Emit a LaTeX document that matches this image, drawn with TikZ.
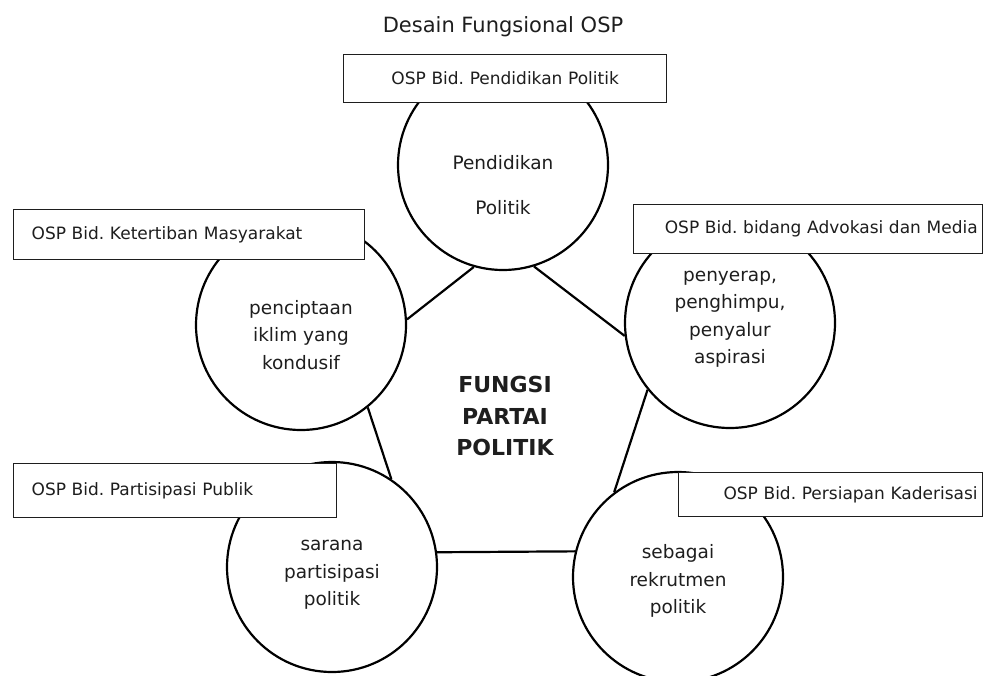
\documentclass[tikz,border=0pt]{standalone}
\usepackage{fontspec}
\setmainfont{DejaVu Sans}
\usepackage{tikz}
\usepackage{xcolor}
\definecolor{teks}{HTML}{1E1E1E}
\frenchspacing

\begin{document}
\begin{tikzpicture}[x=1pt,y=-1pt]
		\tikzstyle{fungsi}=[draw, circle, line width=2.2pt, minimum size=210pt, inner sep=0pt]
		\tikzstyle{isi}=[align=center, text=teks, font=\fontsize{18.5}{27.5}\selectfont]
		\tikzstyle{osp}=[draw=teks, fill=white, line width=1.3pt, rectangle, anchor=north west, inner ysep=0pt, text=teks, font=\fontsize{17}{20}\selectfont]
		\tikzstyle{garis}=[line width=2.2pt]
		\useasboundingbox (0,0) rectangle (984,675);
		\node[text=teks, font=\fontsize{21}{25}\selectfont] (judul) at (503,27) {Desain Fungsional OSP};
		\node[fungsi] (pp) at (503,165) {};
		\node[fungsi] (kb) at (301,325) {};
		\node[fungsi] (asp) at (730,323) {};
		\node[fungsi] (spp) at (332,567) {};
		\node[fungsi] (rek) at (678,577) {};
		\node[isi] (pp-t) at (503,185) {Pendidikan\\[17.5pt]Politik};
		\node[isi] (kb-t) at (301,335) {penciptaan\\iklim yang\\kondusif};
		\node[isi] (asp-t) at (730,319) {penyerap,\\penghimpu,\\penyalur\\aspirasi};
		\node[isi] (spp-t) at (332,575) {sarana\\partisipasi\\politik};
		\node[isi] (rek-t) at (678,581) {sebagai\\rekrutmen\\politik};
		\node[text=teks, align=center, font=\bfseries\fontsize{22}{31.5}\selectfont] (fpp) at (505,416) {FUNGSI\\PARTAI\\POLITIK};
		\draw[garis] (pp.254) -- (kb.3);
		\draw[garis] (pp.287) -- (asp.187.6);
		\draw[garis] (kb.309) -- (spp.56);
		\draw[garis] (spp.8) -- (rek.166);
		\draw[garis] (asp.219) -- (rek.127);
		\node[osp, text width=313pt, inner xsep=5pt, align=center, minimum height=48pt] (b-pp) at (343,54) {OSP Bid. Pendidikan Politik};
		\node[osp, text width=315pt, inner xsep=18pt, align=left, minimum height=50pt] (b-kb) at (13,209) {OSP Bid. Ketertiban Masyarakat};
		\node[osp, text width=339pt, inner xsep=5pt, align=right, minimum height=49pt] (b-asp) at (633,204) {OSP Bid. bidang Advokasi dan Media};
		\node[osp, text width=287pt, inner xsep=18pt, align=left, minimum height=54pt] (b-spp) at (13,463) {OSP Bid. Partisipasi Publik};
		\node[osp, text width=294pt, inner xsep=5pt, align=right, minimum height=44pt] (b-rek) at (678,472) {OSP Bid. Persiapan Kaderisasi};
\end{tikzpicture}
\end{document}
